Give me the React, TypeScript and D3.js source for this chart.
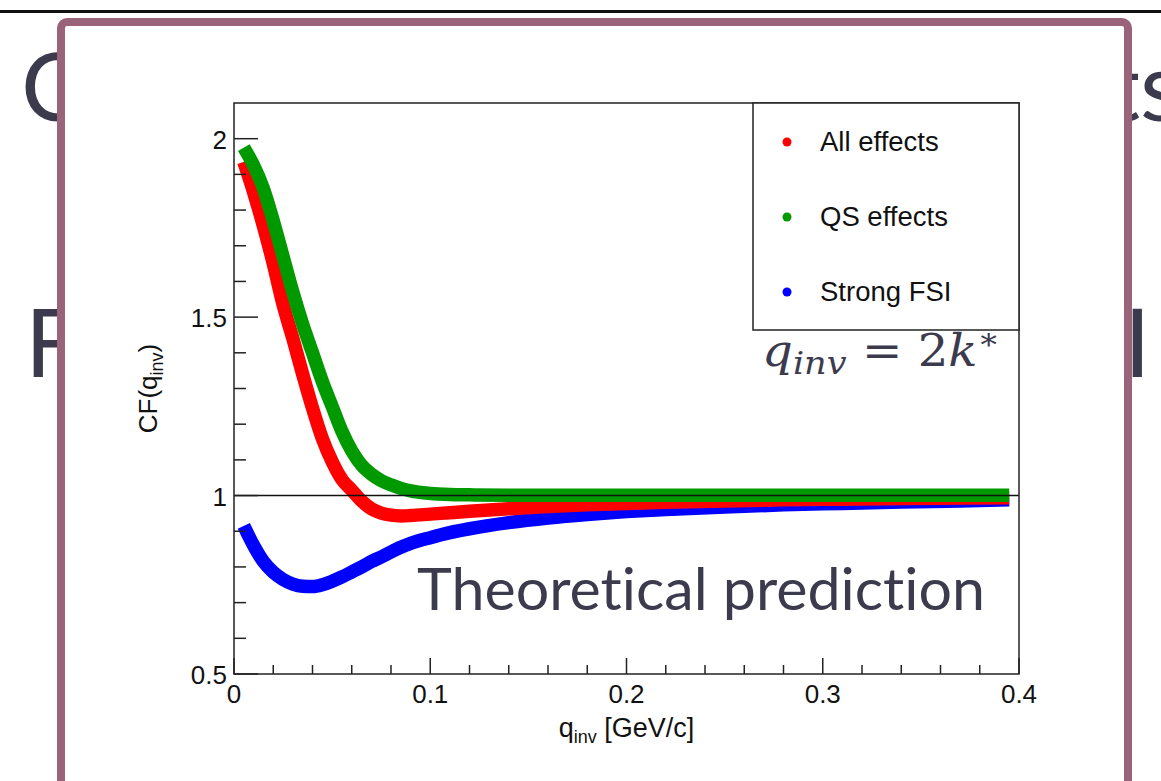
import React from "react";
import * as d3 from "d3";

// ---------- data ----------
const qValues = [0.005, 0.01, 0.015, 0.02, 0.025, 0.03, 0.035, 0.04, 0.045, 0.05, 0.055, 0.06, 0.065, 0.07, 0.075, 0.08, 0.085, 0.09, 0.1, 0.11, 0.12, 0.14, 0.16, 0.18, 0.2, 0.22, 0.25, 0.28, 0.31, 0.34, 0.37, 0.395];
const allEffects = [1.935, 1.85, 1.755, 1.65, 1.535, 1.44, 1.34, 1.245, 1.16, 1.095, 1.045, 1.015, 0.985, 0.963, 0.951, 0.945, 0.943, 0.944, 0.948, 0.952, 0.956, 0.963, 0.969, 0.974, 0.978, 0.981, 0.985, 0.988, 0.99, 0.992, 0.993, 0.994];
const qsEffects = [1.975, 1.925, 1.86, 1.77, 1.67, 1.57, 1.48, 1.4, 1.32, 1.25, 1.18, 1.125, 1.085, 1.06, 1.042, 1.03, 1.02, 1.013, 1.006, 1.003, 1.002, 1.001, 1.001, 1.001, 1.001, 1.001, 1.001, 1.001, 1.001, 1.001, 1.001, 1.001];
const strongFSI = [0.915, 0.86, 0.815, 0.785, 0.765, 0.752, 0.746, 0.745, 0.75, 0.76, 0.772, 0.786, 0.8, 0.815, 0.828, 0.842, 0.855, 0.866, 0.882, 0.896, 0.907, 0.924, 0.937, 0.947, 0.955, 0.961, 0.968, 0.974, 0.978, 0.982, 0.985, 0.988];

const seriesNames = ["All effects", "QS effects", "Strong FSI"];
const seriesColors = ["#ff0000", "#009a00", "#0000ff"];

const xMajorTicks = [0, 0.1, 0.2, 0.3, 0.4];
const xTickLabels = ["0", "0.1", "0.2", "0.3", "0.4"];
const yMajorTicks = [0.5, 1, 1.5, 2];
const yTickLabels = ["0.5", "1", "1.5", "2"];

// ---------- layout ----------
const W = 1161;
const H = 781;
const X0 = 234, X1 = 1019, Y0 = 103, Y1 = 674;
const SLIDE = "#3c3b4e";
const MAUVE = "#9a6379";
const AX_FONT = "'Liberation Sans', Arial, Helvetica, sans-serif";
const SLIDE_FONT = "Lato, 'Open Sans', sans-serif";
const ZWNJ = "\u200C";

export default function App() {
  const x = d3.scaleLinear().domain([0, 0.4]).range([X0, X1]);
  const y = d3.scaleLinear().domain([0.5, 2.1]).range([Y1, Y0]);

  const xMinor = d3.range(0, 0.4001, 0.02).filter((v) => !xMajorTicks.some((m) => Math.abs(m - v) < 1e-6));
  const yMinor = d3.range(0.5, 2.0501, 0.1).filter((v) => !yMajorTicks.some((m) => Math.abs(m - v) < 1e-6));

  const line = d3
    .line<[number, number]>()
    .x((d) => x(d[0]))
    .y((d) => y(d[1]))
    .curve(d3.curveMonotoneX);

  const seriesData = [strongFSI, allEffects, qsEffects];
  const seriesColorDraw = [seriesColors[2], seriesColors[0], seriesColors[1]];

  const legendY = [142, 217, 292];

  return (
    <svg width={W} height={H} style={{ position: "absolute", left: 0, top: 0, background: "#fff" }}>
      {/* slide background */}
      <rect x={0} y={0} width={W} height={H} fill="#ffffff" />
      <rect x={0} y={10} width={W} height={3} fill="#111" />
      <g fontFamily={SLIDE_FONT} fill={SLIDE} fontSize={95}>
        <text x={21} y={121}>C</text>
        <text x={1106} y={121}>ts</text>
        <text x={25} y={377}>F</text>
        <text x={1124} y={377}>I</text>
      </g>

      {/* picture box */}
      <rect x={61} y={22} width={1067} height={820} rx={6} ry={6} fill="#ffffff" stroke={MAUVE} strokeWidth={8} />

      {/* curves */}
      <g fill="none" strokeWidth={13.5} strokeLinecap="butt" strokeLinejoin="round">
        {seriesData.map((vals, i) => (
          <path key={i} d={line(qValues.map((q, k) => [q, vals[k]]) as [number, number][]) || ""} stroke={seriesColorDraw[i]} />
        ))}
      </g>

      {/* line at 1 */}
      <line x1={X0} x2={X1} y1={y(1)} y2={y(1)} stroke="#111" strokeWidth={1.5} />

      {/* frame */}
      <rect x={X0} y={Y0} width={X1 - X0} height={Y1 - Y0} fill="none" stroke="#222" strokeWidth={1.5} />

      {/* ticks */}
      <g stroke="#222" strokeWidth={1.5}>
        {xMajorTicks.map((t) => (
          <line key={"xM" + t} x1={x(t)} x2={x(t)} y1={Y1} y2={Y1 - 16} />
        ))}
        {xMinor.map((t) => (
          <line key={"xm" + t} x1={x(t)} x2={x(t)} y1={Y1} y2={Y1 - 9} />
        ))}
        {yMajorTicks.map((t) => (
          <line key={"yM" + t} x1={X0} x2={X0 + 24} y1={y(t)} y2={y(t)} />
        ))}
        {yMinor.map((t) => (
          <line key={"ym" + t} x1={X0} x2={X0 + 12} y1={y(t)} y2={y(t)} />
        ))}
      </g>

      <g fontFamily={AX_FONT} fontSize={26} fill="#111">
        {xMajorTicks.map((t, i) => (
          <text key={"xl" + t} x={x(t)} y={703} textAnchor="middle">
            {xTickLabels[i]}
          </text>
        ))}
        {yMajorTicks.map((t, i) => (
          <text key={"yl" + t} x={227} y={y(t) + 10} textAnchor="end">
            {yTickLabels[i]}
          </text>
        ))}
        {/* x title */}
        <text x={(X0 + X1) / 2} y={737} textAnchor="middle" fontSize={27}>
          <tspan>q</tspan>
          <tspan fontSize={18} dy={6}>inv</tspan>
          <tspan dy={-6}> [GeV/c]</tspan>
        </text>
        {/* y title */}
        <text transform={`translate(157,${(Y0 + Y1) / 2}) rotate(-90)`} textAnchor="middle" fontSize={26}>
          <tspan>CF(q</tspan>
          <tspan fontSize={18} dy={6}>inv</tspan>
          <tspan dy={-6}>)</tspan>
        </text>
      </g>

      {/* legend */}
      <rect x={753} y={Y0} width={X1 - 753} height={330 - Y0} fill="#fff" stroke="#222" strokeWidth={1.5} />
      <g fontFamily={AX_FONT} fontSize={27.5} fill="#111">
        {seriesNames.map((name, i) => (
          <g key={name}>
            <circle cx={787} cy={legendY[i]} r={4.5} fill={seriesColors[i]} />
            <text x={820} y={legendY[i] + 9}>{name}</text>
          </g>
        ))}
      </g>

      {/* annotation */}
      <text x={762} y={366} fontFamily="'DejaVu Serif', serif" fontSize={44} fill={SLIDE} textLength={238} lengthAdjust="spacingAndGlyphs">
        <tspan fontStyle="italic">q</tspan>
        <tspan fontStyle="italic" fontSize={32} dy={8}>inv</tspan>
        <tspan dy={-8}> = 2</tspan>
        <tspan fontStyle="italic">k</tspan>
        <tspan fontSize={30} dy={-17}>∗</tspan>
      </text>

      <text
        x={417}
        y={610}
        fontFamily={SLIDE_FONT}
        fontSize={58}
        fill={SLIDE}
        textLength={568}
        lengthAdjust="spacingAndGlyphs"
        style={{ fontVariantLigatures: "none", fontFeatureSettings: "'liga' 0, 'clig' 0, 'dlig' 0, 'calt' 0" }}
      >
        {`Theoret${ZWNJ}ical predict${ZWNJ}ion`}
      </text>
    </svg>
  );
}
